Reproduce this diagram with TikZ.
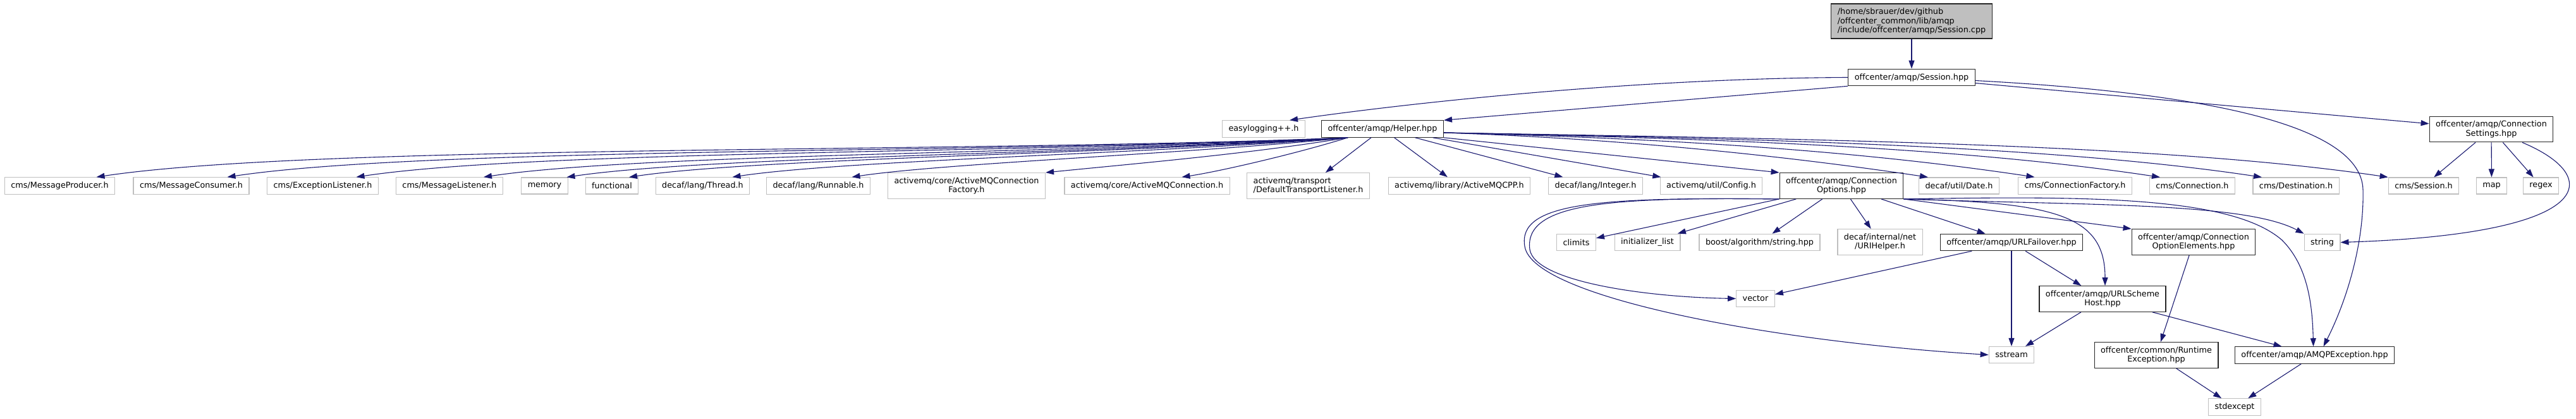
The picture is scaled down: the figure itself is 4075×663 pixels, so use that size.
\documentclass[tikz,border=0pt]{standalone}
\usepackage{fontspec}
\setmainfont{DejaVu Sans}[Ligatures=NoCommon]
\usetikzlibrary{arrows.meta}

\definecolor{grey75}{HTML}{BFBFBF}
\definecolor{edgeblue}{HTML}{191970}

\begin{document}
\begin{tikzpicture}[
    x=1pt,
    y=-1pt,
    font=\fontsize{12.8}{14.3}\selectfont,
    sysnode/.style={
        draw=grey75,
        line width=1.2pt,
        fill=white,
        inner xsep=10pt,
        inner ysep=7pt,
        minimum height=26pt
    },
    docnode/.style={
        sysnode,
        draw=black!85
    },
    rootnode/.style={
        docnode,
        fill=grey75
    },
    dep/.style={
        -{Triangle[length=13pt,width=9pt]},
        line width=1.1pt,
        draw=edgeblue
    }
]

\useasboundingbox (0,0) rectangle (4075,663);

% Source file and its header
\node[rootnode, align=left] (cpp) at (3024,33.5)
    {/home/sbrauer/dev/github\\/offcenter\_common/lib/amqp\\/include/offcenter/amqp/Session.cpp};
\node[docnode] (sessionh) at (3024,122.5) {offcenter/amqp/Session.hpp};

% Second level
\node[sysnode] (easylog) at (1999,204) {easylogging++.h};
\node[docnode] (helper) at (2187,204) {offcenter/amqp/Helper.hpp};
\node[docnode, align=center] (connsettings) at (3941,204.5)
    {offcenter/amqp/Connection\\Settings.hpp};

% Headers used by Helper.hpp
\node[sysnode] (msgproducer) at (94.5,294) {cms/MessageProducer.h};
\node[sysnode] (msgconsumer) at (302.5,294) {cms/MessageConsumer.h};
\node[sysnode] (exclistener) at (510.5,294) {cms/ExceptionListener.h};
\node[sysnode] (msglistener) at (711,294) {cms/MessageListener.h};
\node[sysnode] (memory) at (861.5,294) {memory};
\node[sysnode] (functional) at (968,294) {functional};
\node[sysnode] (thread) at (1111.5,294) {decaf/lang/Thread.h};
\node[sysnode] (runnable) at (1294.5,294) {decaf/lang/Runnable.h};
\node[sysnode, align=center] (amqconnfactory) at (1529,294)
    {activemq/core/ActiveMQConnection\\Factory.h};
\node[sysnode] (amqconn) at (1814.5,294) {activemq/core/ActiveMQConnection.h};
\node[sysnode, align=left] (transport) at (2069.5,294)
    {activemq/transport\\/DefaultTransportListener.h};
\node[sysnode] (amqcpp) at (2308.5,294) {activemq/library/ActiveMQCPP.h};
\node[sysnode] (integer) at (2524,294) {decaf/lang/Integer.h};
\node[sysnode] (config) at (2707,294) {activemq/util/Config.h};
\node[docnode, align=center] (connoptions) at (2913,294)
    {offcenter/amqp/Connection\\Options.hpp};
\node[sysnode] (date) at (3099,294) {decaf/util/Date.h};
\node[sysnode] (connfactory) at (3282.5,294) {cms/ConnectionFactory.h};
\node[sysnode] (connection) at (3468,294) {cms/Connection.h};
\node[sysnode] (destination) at (3632,294) {cms/Destination.h};
\node[sysnode] (cmssession) at (3834,294) {cms/Session.h};
\node[sysnode] (map) at (3941.5,294) {map};
\node[sysnode] (regex) at (4019.5,294) {regex};

% Headers used by ConnectionOptions.hpp
\node[sysnode] (climits) at (2493.5,383.5) {climits};
\node[sysnode] (initlist) at (2606,383.5) {initializer\_list};
\node[sysnode] (boost) at (2783.5,383.5) {boost/algorithm/string.hpp};
\node[sysnode, align=center] (urihelper) at (2974,383)
    {decaf/internal/net\\/URIHelper.h};
\node[docnode] (urlfailover) at (3182,383.5) {offcenter/amqp/URLFailover.hpp};
\node[docnode, align=center] (connoptelems) at (3470,383)
    {offcenter/amqp/Connection\\OptionElements.hpp};
\node[sysnode] (string) at (3673.5,383.5) {string};

% Lower levels
\node[sysnode] (vector) at (2777,472.5) {vector};
\node[docnode, align=center] (urlscheme) at (3326,473)
    {offcenter/amqp/URLScheme\\Host.hpp};
\node[sysnode] (sstream) at (3182,561.5) {sstream};
\node[docnode, align=center] (runtimeexc) at (3411,562)
    {offcenter/common/Runtime\\Exception.hpp};
\node[docnode] (amqpexc) at (3661.5,562) {offcenter/amqp/AMQPException.hpp};
\node[sysnode] (stdexcept) at (3535,644) {stdexcept};

% Session.cpp / Session.hpp
\draw[dep] (cpp) -- (sessionh);
\draw[dep] (sessionh.west)
    .. controls (2600,124) and (2250,160) .. ([xshift=41pt]easylog.north);
\draw[dep] (sessionh.south west) -- (helper.north east);
\draw[dep] (sessionh) -- (connsettings);
\draw[dep] ([yshift=-5pt]sessionh.east)
    .. controls (3450,145) and (3735,190) .. (3738,300)
    .. controls (3740,380) and (3715,470) .. ([xshift=14pt]amqpexc.north);

% Helper.hpp, left fan
\foreach \tgt/\off/\a/\b in {
    msgproducer/58/600/350, msgconsumer/57/540/320,
    exclistener/53/480/290, msglistener/54/420/250,
    memory/35/380/220, functional/27/350/200,
    thread/47/300/180, runnable/53/240/150, amqconn/55/80/60} {
    \draw[dep] ([xshift=-55pt]helper.south)
        .. controls +(-\a,25) and +(\b,{-0.15*\b}) .. ([xshift=\off pt]\tgt.north);
}
\draw[dep] ([xshift=-55pt]helper.south)
    .. controls +(-150,25) and +(150,-15) .. (amqconnfactory.north east);

% Helper.hpp, straight edges
\foreach \tgt in {transport, amqcpp, integer, config} {
    \draw[dep] (helper) -- (\tgt);
}
\draw[dep] (helper.south east) -- (connoptions.north west);

% Helper.hpp, right fan
\foreach \tgt/\off/\a/\b in {
    date/-49/300/200, connfactory/-64/400/250,
    connection/-51/480/300, destination/-54/540/320} {
    \draw[dep] ([yshift=-6pt]helper.east)
        .. controls +(\a,10) and +(-\b,{-0.15*\b}) .. ([xshift=\off pt]\tgt.north);
}
\draw[dep] ([yshift=-6pt]helper.east)
    .. controls +(600,10) and +(-350,-52) .. (cmssession.north west);

% ConnectionSettings.hpp
\foreach \tgt in {cmssession, map, regex} {
    \draw[dep] (connsettings) -- (\tgt);
}
\draw[dep] ([xshift=49pt]connsettings.south)
    .. controls (4120,280) and (4110,370) .. (string.east);

% ConnectionOptions.hpp
\foreach \tgt in {climits, initlist, boost, urihelper, urlfailover} {
    \draw[dep] (connoptions) -- (\tgt);
}
\draw[dep] (connoptions.south west)
    .. controls (2550,312) and (2410,320) .. (2420,395)
    .. controls (2428,445) and (2600,470) .. (vector.west);
\draw[dep] (connoptions.south west)
    .. controls (2530,312) and (2400,320) .. (2412,390)
    .. controls (2425,470) and (2800,540) .. (sstream.west);
\draw[dep] (connoptions.south east) -- (connoptelems.north west);
\draw[dep] (connoptions.south east)
    .. controls (3250,320) and (3330,340) .. ([xshift=4pt]urlscheme.north);
\draw[dep] (connoptions.south east)
    .. controls (3300,325) and (3550,320) .. (string.north west);
\draw[dep] (connoptions.south east)
    .. controls (3300,310) and (3530,310) .. (3610,380)
    .. controls (3650,420) and (3658,480) .. ([xshift=-2pt]amqpexc.north);

% Lower edges
\draw[dep] (urlfailover) -- (vector);
\draw[dep] (urlfailover) -- (sstream);
\draw[dep] (urlfailover) -- (urlscheme);
\draw[dep] (urlscheme) -- (sstream);
\draw[dep] (urlscheme) -- (amqpexc);
\draw[dep] (connoptelems) -- (runtimeexc);
\draw[dep] (runtimeexc) -- (stdexcept);
\draw[dep] (amqpexc) -- (stdexcept);

\end{tikzpicture}
\end{document}
